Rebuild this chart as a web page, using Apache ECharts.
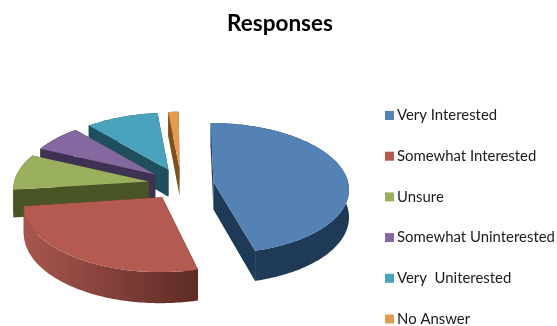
<!DOCTYPE html>
<html><head><meta charset="utf-8">
<style>html,body{margin:0;padding:0;background:#fff}#c{width:557px;height:326px}</style>
<script src="https://cdn.jsdelivr.net/npm/echarts@6/dist/echarts.min.js"></script>
</head><body><div id="c"></div>
<script>
const categories = ['Very Interested','Somewhat Interested','Unsure','Somewhat Uninterested','Very  Uniterested','No Answer'];
const shares = [46, 27, 9, 6.7, 9.8, 1.5];
const topColors = ['#5482b5','#b55a50','#9bb05f','#8469a0','#4aa3bd','#e39b50'];
const wallLeft = ['#2a4a6c','#a8564e','#4a5526','#3f3151','#1f4f5c','#7f4f1c'];
const wallRight = ['#1f3a57','#5e2b26','#4a5526','#3f3151','#1f4f5c','#7f4f1c'];
const drawOrder = [5,4,3,2,1,0];

const CX=181, CY=184, RX=135, RY=65, K=0.095, EXPLODE=0.243, DEPTH=27.5;
function project(X,Y){const s=1/(1-K*Y);return [CX+RX*X*s, CY+RY*Y*s, s];}
const total = shares.reduce((a,b)=>a+b,0);
function sliceRange(i){let a=0;for(let j=0;j<i;j++)a+=shares[j];return [a/total*360,(a+shares[i])/total*360];}

function renderSlice(i){
  const [a0,a1]=sliceRange(i), mid=(a0+a1)/2*Math.PI/180;
  const ox=EXPLODE*Math.sin(mid), oy=-EXPLODE*Math.cos(mid);
  const apex=project(ox,oy), rim=[];
  for(let a=a0;a<=a1+1e-6;a+=Math.min(1,(a1-a0)/4)){
    const t=a*Math.PI/180; rim.push(project(ox+Math.sin(t),oy-Math.cos(t)));
  }
  const down=p=>[p[0],p[1]+DEPTH*p[2]], flat=p=>[p[0],p[1]];
  const first=rim[0], last=rim[rim.length-1];
  const solid=wallRight[i];
  const wall=(pts,fill)=>({type:'polygon',shape:{points:pts},style:{fill:fill}});
  return {type:'group',children:[
    wall([flat(apex),flat(first),down(first),down(apex)],solid),
    wall([flat(apex),flat(last),down(last),down(apex)],solid),
    wall(rim.map(flat).concat(rim.slice().reverse().map(down)),
      i===1
        ? {type:'linear',x:0,y:0,x2:1,y2:0,colorStops:[{offset:0,color:wallLeft[i]},{offset:1,color:wallRight[i]}]}
        : {type:'linear',x:0,y:0,x2:1,y2:0,colorStops:[{offset:0,color:wallLeft[i]},{offset:0.4,color:wallRight[i]},{offset:1,color:wallRight[i]}]}),
    wall([flat(apex)].concat(rim.map(flat)),topColors[i])
  ]};
}

const chart=echarts.init(document.getElementById('c'),null,{renderer:'canvas'});
chart.setOption({
  animation:false,
  backgroundColor:'#fff',
  title:{text:'Responses',left:275,top:7,textAlign:'center',
    textStyle:{fontFamily:'Lato',fontWeight:'bold',fontSize:22.5,color:'#000'}},
  legend:{orient:'vertical',left:380,top:103,height:300,icon:'rect',itemWidth:9,itemHeight:9,itemGap:25.7,
    data:categories,selectedMode:false,
    textStyle:{fontFamily:'Lato',fontSize:14.9,color:'#1a1a1a',padding:[0,0,0,-2]}},
  series:drawOrder.map(i=>({
    type:'custom',name:categories[i],coordinateSystem:'none',silent:true,
    itemStyle:{color:topColors[i]},
    data:[shares[i]],
    renderItem:()=>renderSlice(i)
  }))
});
</script></body></html>
